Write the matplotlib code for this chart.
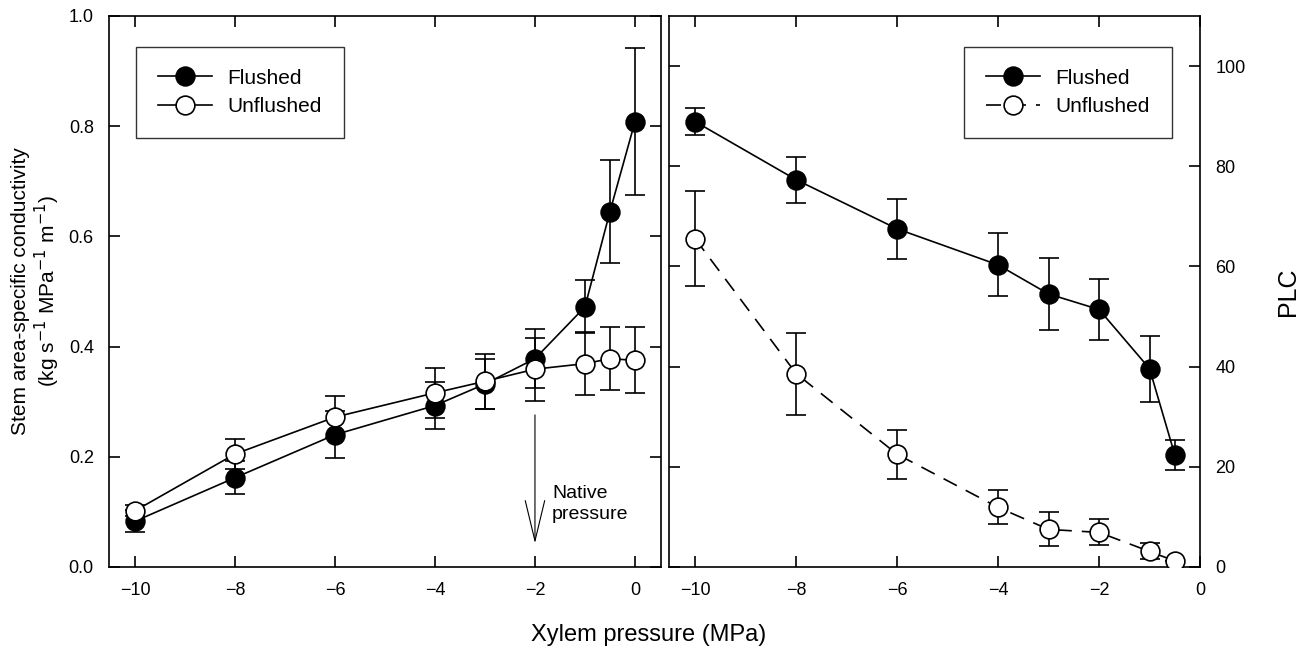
import matplotlib
matplotlib.use("Agg")
import matplotlib.pyplot as plt

plt.rcParams['font.family'] = ['Liberation Sans', 'DejaVu Sans']
plt.rcParams['axes.linewidth'] = 1.2

# Linke Grafik: leitfaehigkeit
pressure_left = [-10, -8, -6, -4, -3, -2, -1, -0.5, 0]
cond_flushed = [0.083, 0.162, 0.240, 0.293, 0.332, 0.378, 0.472, 0.645, 0.808]
cond_flushed_err = [0.020, 0.030, 0.043, 0.043, 0.045, 0.053, 0.048, 0.093, 0.133]
cond_unflushed = [0.102, 0.205, 0.272, 0.316, 0.337, 0.359, 0.369, 0.378, 0.375]
cond_unflushed_err = [0.010, 0.028, 0.038, 0.045, 0.050, 0.057, 0.057, 0.057, 0.060]

# Rechte Grafik: PLC
pressure_right = [-10, -8, -6, -4, -3, -2, -1, -0.5]
plc_flushed = [88.9, 77.3, 67.5, 60.3, 54.5, 51.4, 39.6, 22.4]
plc_flushed_err = [2.7, 4.6, 6.0, 6.3, 7.2, 6.0, 6.6, 3.0]
plc_unflushed = [65.5, 38.6, 22.5, 11.9, 7.5, 6.9, 3.1, 1.2]
plc_unflushed_err = [9.5, 8.2, 4.9, 3.4, 3.4, 2.6, 1.6, 0.0]

xticks = [-10, -8, -6, -4, -2, 0]

fig = plt.figure(figsize=(12.98, 6.49), dpi=100)
ax1 = fig.add_axes([0.0840, 0.1264, 0.4252, 0.8490])
ax2 = fig.add_axes([0.5154, 0.1264, 0.4091, 0.8490])

mk = dict(marker='o', markersize=13.5, color='black', lw=1.2, markeredgewidth=1.2)
eb = dict(fmt='none', ecolor='black', elinewidth=1.2, capsize=7, capthick=1.2)
legkw = dict(borderaxespad=0, fontsize=15, frameon=True, fancybox=False,
             edgecolor='black', handlelength=2.6, borderpad=1.05,
             labelspacing=0.45, handletextpad=0.75)

# links
ax1.errorbar(pressure_left, cond_flushed, yerr=cond_flushed_err, zorder=2, **eb)
ax1.plot(pressure_left, cond_flushed, markerfacecolor='black', zorder=3,
         label='Flushed', **mk)
ax1.errorbar(pressure_left, cond_unflushed, yerr=cond_unflushed_err, zorder=4, **eb)
ax1.plot(pressure_left, cond_unflushed, markerfacecolor='white', zorder=5,
         label='Unflushed', **mk)

ax1.set_xlim(-10.52, 0.52)
ax1.set_ylim(0, 1.0)
ax1.set_xticks(xticks)
ax1.set_yticks([0, 0.2, 0.4, 0.6, 0.8, 1.0])
ax1.set_yticklabels(['0.0', '0.2', '0.4', '0.6', '0.8', '1.0'])
ax1.tick_params(direction='in', length=8, width=1.2, labelsize=13,
                top=True, right=True, pad=11)
ax1.set_ylabel('Stem area-specific conductivity\n(kg s$^{-1}$ MPa$^{-1}$ m$^{-1}$)',
               fontsize=15, labelpad=5, linespacing=1.1)

ax1.annotate('', xy=(-2, 0.043), xytext=(-2, 0.276),
             arrowprops=dict(arrowstyle='->,head_length=2.9,head_width=0.7',
                             color='black', lw=0.8, shrinkA=0, shrinkB=0))
ax1.text(-1.66, 0.115, 'Native\npressure', fontsize=14, va='center', ha='left',
         linespacing=1.3)

leg1 = ax1.legend(loc='upper left', bbox_to_anchor=(0.049, 0.944), **legkw)
leg1.get_frame().set_linewidth(1.0)

# rechts
ax2.errorbar(pressure_right, plc_flushed, yerr=plc_flushed_err, zorder=2, **eb)
ax2.plot(pressure_right, plc_flushed, markerfacecolor='black', zorder=3,
         label='Flushed', **mk)
ax2.errorbar(pressure_right, plc_unflushed, yerr=plc_unflushed_err, zorder=4, **eb)
ax2.plot(pressure_right, plc_unflushed, markerfacecolor='white', zorder=5,
         linestyle=(0, (9, 6)), label='Unflushed', **mk)

ax2.set_xlim(-10.52, 0)
ax2.set_ylim(0, 110)
ax2.set_xticks(xticks)
ax2.set_yticks([0, 20, 40, 60, 80, 100])
ax2.tick_params(direction='in', length=8, width=1.2, labelsize=13,
                top=True, left=True, right=True, labelleft=False,
                labelright=True, pad=11)
ax2.yaxis.set_label_position('right')
ax2.set_ylabel('PLC', fontsize=18, labelpad=22)

leg2 = ax2.legend(loc='upper right', bbox_to_anchor=(0.947, 0.944), **legkw)
leg2.get_frame().set_linewidth(1.0)

fig.text(0.5, 0.0216, 'Xylem pressure (MPa)', fontsize=17, ha='center', va='center')

plt.savefig('out.png', dpi=100)
